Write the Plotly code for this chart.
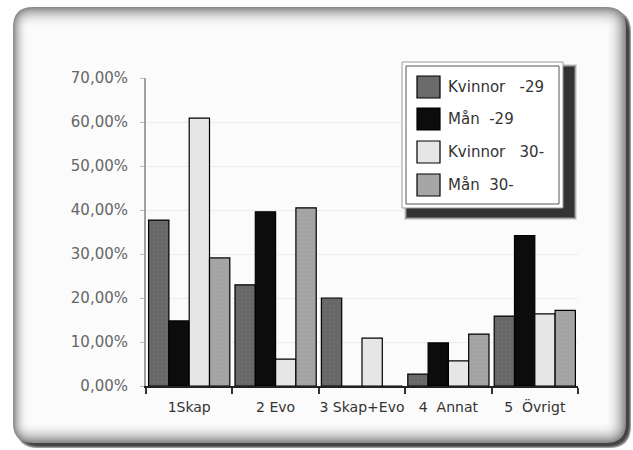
import plotly.graph_objects as go

# Answer categories and the four respondent groups (shares in percent)
categories = ["1Skap", "2 Evo", "3 Skap+Evo", "4\u00a0 Annat", "5\u00a0 Övrigt"]
series_names = ["Kvinnor\u00a0\u00a0 -29", "Mån\u00a0 -29", "Kvinnor\u00a0\u00a0 30-", "Mån\u00a0 30-"]
kvinnor_29 = [37.7, 23.0, 20.0, 2.7, 15.9]
man_29 = [14.8, 39.6, 0.0, 9.8, 34.2]
kvinnor_30 = [60.9, 6.1, 10.9, 5.7, 16.4]
man_30 = [29.1, 40.5, 0.0, 11.8, 17.2]
y_ticks = [0, 10, 20, 30, 40, 50, 60, 70]
y_tick_labels = ["0,00%", "10,00%", "20,00%", "30,00%", "40,00%", "50,00%", "60,00%", "70,00%"]

series_values = [kvinnor_29, man_29, kvinnor_30, man_30]
fills = ["#6b6b6b", "#0c0c0c", "#e6e6e6", "#a6a6a6"]
textures = [("+", "#555555"), ("", None), ("", None), ("+", "#909090")]

W_PX, H_PX = 633, 450
L, R, T, B = 146, 578, 78, 386
PW, PH = R - L, B - T


def px(x):
    return (x - L) / PW


def py(y):
    return (B - y) / PH


def rrect(x0, y0, x1, y1, r):
    return (
        f"M {px(x0 + r)},{py(y0)} L {px(x1 - r)},{py(y0)} "
        f"Q {px(x1)},{py(y0)} {px(x1)},{py(y0 + r)} L {px(x1)},{py(y1 - r)} "
        f"Q {px(x1)},{py(y1)} {px(x1 - r)},{py(y1)} L {px(x0 + r)},{py(y1)} "
        f"Q {px(x0)},{py(y1)} {px(x0)},{py(y1 - r)} L {px(x0)},{py(y0 + r)} "
        f"Q {px(x0)},{py(y0)} {px(x0 + r)},{py(y0)} Z"
    )


fig = go.Figure()
for name, vals, col, (shp, fg) in zip(series_names, series_values, fills, textures):
    marker = dict(color=col, line=dict(color="#000000", width=1.2))
    if shp:
        marker["pattern"] = dict(shape=shp, fgcolor=fg, bgcolor=col, size=4, solidity=0.25)
    fig.add_trace(go.Bar(x=categories, y=vals, name=name, marker=marker, showlegend=False))

shapes = []
# bevelled frame: shadow on the lower right, soft grey rim fading inward
shadow_cols = ["#9a9a9a", "#6a6a6a", "#444444"]
for i, c in enumerate(shadow_cols):
    shapes.append(dict(type="path", xref="paper", yref="paper", layer="below",
                       path=rrect(16 + i, 10 + i, 631 - i, 448 - i, 22),
                       fillcolor=c, line=dict(width=0)))
rim = ["#8c8c8c", "#989898", "#a4a4a4", "#b0b0b0", "#bbbbbb", "#c5c5c5", "#cecece",
       "#d6d6d6", "#dddddd", "#e4e4e4", "#e9e9e9", "#eeeeee", "#f2f2f2", "#f5f5f5",
       "#f8f8f8", "#fafafa", "#fbfbfb"]
for i, c in enumerate(rim):
    shapes.append(dict(type="path", xref="paper", yref="paper", layer="below",
                       path=rrect(13 + i * 0.9, 7 + i * 1.2, 626 - i * 1.2, 443 - i * 1.2, 20 - i),
                       fillcolor=c, line=dict(width=0)))

# legend box with drop shadow
for i, c in enumerate(["#dcdcdc", "#a8a8a8", "#666666", "#333333"]):
    shapes.append(dict(type="rect", xref="paper", yref="paper",
                       x0=px(404 + i), x1=px(577 - i), y0=py(64 + i), y1=py(220 - i),
                       fillcolor=c, line=dict(width=0)))
shapes.append(dict(type="rect", xref="paper", yref="paper",
                   x0=px(402), x1=px(563), y0=py(62), y1=py(208),
                   fillcolor="#ffffff", line=dict(color="#9a9a9a", width=1)))
shapes.append(dict(type="rect", xref="paper", yref="paper",
                   x0=px(406), x1=px(559), y0=py(66), y1=py(204),
                   fillcolor="rgba(0,0,0,0)", line=dict(color="#555555", width=1)))

annotations = []
row_centres = [87, 119, 152, 185]
for name, col, cy in zip(series_names, fills, row_centres):
    shapes.append(dict(type="rect", xref="paper", yref="paper",
                       x0=px(417), x1=px(440), y0=py(cy - 11), y1=py(cy + 11),
                       fillcolor=col, line=dict(color="#000000", width=1.2)))
    annotations.append(dict(xref="paper", yref="paper", x=px(446), y=py(cy),
                            text=name, showarrow=False, xanchor="left", yanchor="middle",
                            font=dict(family="DejaVu Sans", size=15, color="#333333")))

fig.update_layout(
    width=W_PX, height=H_PX,
    margin=dict(l=L, r=W_PX - R, t=T, b=H_PX - B, pad=0),
    paper_bgcolor="#ffffff", plot_bgcolor="rgba(0,0,0,0)",
    barmode="group", bargap=0.06, bargroupgap=0.0,
    shapes=shapes, annotations=annotations,
    font=dict(family="DejaVu Sans", size=14, color="#333333"),
)
fig.update_xaxes(
    automargin=False, tickangle=0,
    showline=True, linecolor="#222222", linewidth=2,
    ticks="outside", tickson="boundaries", ticklen=6, tickcolor="#333333", tickwidth=1.5,
    showgrid=False, tickfont=dict(family="DejaVu Sans", size=14, color="#333333"),
    ticklabelstandoff=7,
)
fig.update_yaxes(
    automargin=False,
    range=[0, 70], tickvals=y_ticks, ticktext=y_tick_labels,
    showline=True, linecolor="#a0a0a0", linewidth=2,
    ticks="outside", ticklen=4, tickcolor="#bbbbbb",
    showgrid=True, gridcolor="#ececec", gridwidth=1, zeroline=False,
    tickfont=dict(family="DejaVu Sans", size=15, color="#666666"),
    ticklabelstandoff=9,
)

fig.write_html("out.html")
